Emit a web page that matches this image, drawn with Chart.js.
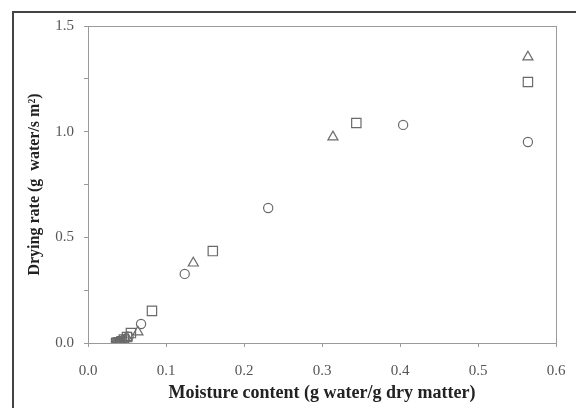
<!DOCTYPE html>
<html>
<head>
<meta charset="utf-8">
<script src="https://cdn.jsdelivr.net/npm/chart.js@4/dist/chart.umd.min.js"></script>
<style>
html,body{margin:0;padding:0;background:#fff;}
#wrap{width:576px;height:408px;position:relative;}
</style>
</head>
<body>
<div id="wrap"><canvas id="c" width="576" height="408"></canvas></div>
<script>
// Moisture content (x) and drying rate (y) per series
const circleX = [0.564, 0.404, 0.231, 0.124, 0.068, 0.052, 0.047, 0.044, 0.041, 0.039, 0.037];
const circleY = [0.951, 1.032, 0.639, 0.327, 0.090, 0.030, 0.016, 0.009, 0.004, 0.002, 0.000];
const squareX = [0.564, 0.344, 0.160, 0.082, 0.055, 0.050, 0.046, 0.043, 0.041, 0.039, 0.037, 0.036];
const squareY = [1.235, 1.041, 0.435, 0.152, 0.047, 0.028, 0.016, 0.008, 0.004, 0.002, 0.001, 0.000];
const triangleX = [0.564, 0.314, 0.135, 0.064, 0.050, 0.046, 0.043, 0.041, 0.039, 0.038];
const triangleY = [1.353, 0.975, 0.378, 0.052, 0.025, 0.012, 0.006, 0.003, 0.001, 0.000];
const xTicks = [0.0, 0.1, 0.2, 0.3, 0.4, 0.5, 0.6];
const yTickLabels = [0.0, 0.5, 1.0, 1.5];

const toPts = (xs, ys) => xs.map((x, i) => ({x: x, y: ys[i]}));
const markerColor = '#6a6a6a';
const serif = "'Liberation Serif', 'DejaVu Serif', serif";

const framePlugin = {
  id: 'frame',
  afterDraw(chart) {
    const ctx = chart.ctx;
    const a = chart.chartArea;
    ctx.save();
    ctx.strokeStyle = '#9a9a9a';
    ctx.lineWidth = 1;
    ctx.strokeRect(a.left + 0.5, a.top + 0.5, a.right - a.left, a.bottom - a.top);
    ctx.strokeStyle = '#444';
    ctx.lineWidth = 2;
    ctx.strokeRect(13, 12, 700, 600);
    ctx.restore();
  }
};

new Chart(document.getElementById('c'), {
  type: 'scatter',
  data: {
    datasets: [
      {label: 'circle', data: toPts(circleX, circleY), pointStyle: 'circle', pointRadius: 4.6,
       borderColor: markerColor, backgroundColor: 'rgba(255,255,255,0)', borderWidth: 1.2},
      {label: 'square', data: toPts(squareX, squareY), pointStyle: 'rect', pointRadius: 6.6,
       borderColor: markerColor, backgroundColor: 'rgba(255,255,255,0)', borderWidth: 1.2},
      {label: 'triangle', data: toPts(triangleX, triangleY), pointStyle: 'triangle', pointRadius: 5.8,
       borderColor: markerColor, backgroundColor: 'rgba(255,255,255,0)', borderWidth: 1.2}
    ]
  },
  options: {
    responsive: false,
    animation: false,
    layout: {padding: {left: 20, right: 20, top: 26, bottom: 0}},
    plugins: {legend: {display: false}, tooltip: {enabled: false}},
    scales: {
      x: {
        type: 'linear', min: 0, max: 0.6,
        afterBuildTicks(s) { s.ticks = xTicks.map(v => ({value: v})); },
        afterFit(s) { s.height = 65; s.paddingLeft = 0; s.paddingRight = 0; },
        border: {display: true, color: '#9a9a9a', width: 1},
        grid: {display: true, drawOnChartArea: false, drawTicks: true, tickLength: 4, color: '#9a9a9a'},
        ticks: {color: '#555', font: {family: serif, size: 15}, padding: 15, maxRotation: 0,
                callback: v => Number(v).toFixed(1)},
        title: {display: true, text: 'Moisture content (g water/g dry matter)', color: '#222',
                font: {family: serif, size: 18, weight: 'bold'}, padding: {top: 0, bottom: 4}}
      },
      y: {
        type: 'linear', min: 0, max: 1.5,
        afterBuildTicks(s) {
          const t = [];
          for (let i = 0; i <= 6; i++) t.push({value: i * 0.25});
          s.ticks = t;
        },
        afterFit(s) { s.width = 68; s.paddingTop = 0; s.paddingBottom = 0; },
        border: {display: true, color: '#9a9a9a', width: 1},
        grid: {display: true, drawOnChartArea: false, drawTicks: true, tickLength: 4, color: '#9a9a9a'},
        ticks: {color: '#555', font: {family: serif, size: 15}, padding: 10,
                callback: v => (yTickLabels.some(l => Math.abs(l - v) < 1e-9) ? Number(v).toFixed(1) : '')},
        title: {display: true, text: 'Drying rate (g  water/s m²)', color: '#222',
                font: {family: serif, size: 16, weight: 'bold'}, padding: {top: 5, bottom: 0}}
      }
    }
  },
  plugins: [framePlugin]
});
</script>
</body>
</html>
